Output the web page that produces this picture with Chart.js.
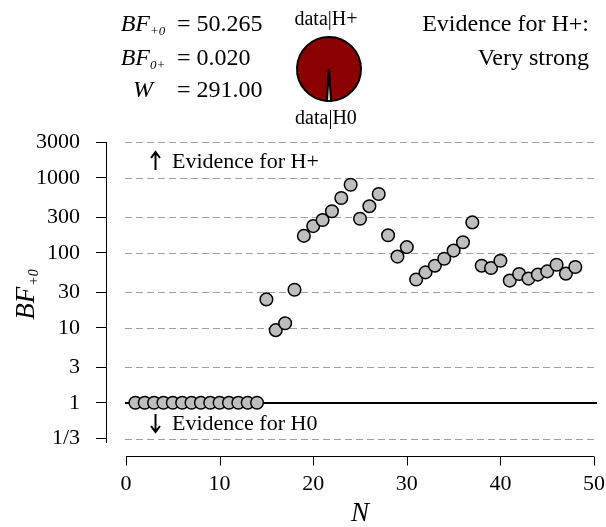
<!DOCTYPE html>
<html>
<head>
<meta charset="utf-8">
<script src="https://cdn.jsdelivr.net/npm/chart.js@4.4.1/dist/chart.umd.min.js"></script>
<style>
  html, body { margin:0; padding:0; background:#fff; }
  #wrap { position:relative; width:606px; height:527px; overflow:hidden; font-family:"Liberation Serif", "Times New Roman", serif; color:#000; }
  #main { position:absolute; left:0; top:0; }
  #pie { position:absolute; left:294px; top:34px; }
  .t { position:absolute; white-space:nowrap; line-height:30px; height:30px; font-size:24px; }
  .lab { width:70px; text-align:center; font-style:italic; }
  .sub { font-size:13px; position:relative; top:4px; font-style:italic; }
  .pl { position:absolute; white-space:nowrap; font-size:20px; line-height:24px; width:100px; text-align:center; }
  .ev { position:absolute; right:17px; white-space:nowrap; font-size:24px; line-height:30px; text-align:right; }
</style>
</head>
<body>
<div id="wrap">
  <canvas id="main" width="606" height="527"></canvas>
  <canvas id="pie" width="70" height="70"></canvas>

  <div class="t lab" style="left:108px; top:8px;">BF<span class="sub">+0</span></div>
  <div class="t" style="left:177px; top:8px;">= 50.265</div>
  <div class="t lab" style="left:108px; top:42px;">BF<span class="sub">0+</span></div>
  <div class="t" style="left:177px; top:42px;">= 0.020</div>
  <div class="t lab" style="left:108px; top:74px;">W</div>
  <div class="t" style="left:177px; top:74px;">= 291.00</div>

  <div class="pl" style="left:276px; top:6px;">data|H+</div>
  <div class="pl" style="left:276px; top:105px;">data|H0</div>

  <div class="ev" style="top:8px;">Evidence for H+:</div>
  <div class="ev" style="top:42px;">Very strong</div>
</div>
<script>
// ---------------- data ----------------
const N = [1,2,3,4,5,6,7,8,9,10,11,12,13,14,15,16,17,18,19,20,21,22,23,24,
           25,26,27,28,29,30,31,32,33,34,35,36,37,38,39,40,41,42,43,44,45,46,47,48];
const bfPlus0 = [1,1,1,1,1,1,1,1,1,1,1,1,1,1,
                 23.9,9.3,11.5,32.1,168,227,273,358,537,808,
                 284,418,607,171,89,119,44,54.8,67.3,83.3,107,138,254,
                 67.3,62.7,78.3,42.6,52.2,45.3,51.2,56.5,69.3,52.7,64.6];
const yTickValues = [1/3, 1, 3, 10, 30, 100, 300, 1000, 3000];
const yTickLabels = ['1/3', '1', '3', '10', '30', '100', '300', '1000', '3000'];
const xTickValues = [0, 10, 20, 30, 40, 50];
const xTickLabels = ['0', '10', '20', '30', '40', '50'];
const pieLabels = ['data|H+', 'data|H0'];
const pieValues = [50.265, 1];

const SERIF = '"Liberation Serif", "Times New Roman", serif';

const refPlugin = {
  id: 'ref',
  beforeDatasetsDraw(chart) {
    const {ctx, chartArea, scales: {x, y}} = chart;
    const x0 = x.getPixelForValue(xTickValues[0]) - 1;
    const x1 = chartArea.right;
    ctx.save();
    ctx.strokeStyle = '#a0a0a0';
    ctx.lineWidth = 1.2;
    ctx.setLineDash([7, 4]);
    yTickValues.forEach(v => {
      if (v === 1) return;
      const py = Math.round(y.getPixelForValue(v)) + 0.5;
      ctx.beginPath(); ctx.moveTo(x0, py); ctx.lineTo(x1, py); ctx.stroke();
    });
    ctx.setLineDash([]);
    ctx.strokeStyle = '#000';
    ctx.lineWidth = 2;
    const p1 = Math.round(y.getPixelForValue(1));
    ctx.beginPath(); ctx.moveTo(x0, p1); ctx.lineTo(x1, p1); ctx.stroke();

    // x axis (R style, detached)
    const ay = chartArea.bottom + 14.5;
    ctx.lineWidth = 1;
    ctx.beginPath();
    ctx.moveTo(x.getPixelForValue(xTickValues[0]), ay);
    ctx.lineTo(x.getPixelForValue(xTickValues[xTickValues.length - 1]), ay);
    xTickValues.forEach(v => {
      const px = Math.round(x.getPixelForValue(v)) + 0.5;
      ctx.moveTo(px, ay); ctx.lineTo(px, ay + 9);
    });
    ctx.stroke();
    ctx.restore();
  },
  afterDraw(chart) {
    const {ctx, chartArea, scales: {x}} = chart;
    ctx.save();
    ctx.fillStyle = '#000';
    ctx.strokeStyle = '#000';
    // evidence arrows
    ctx.lineWidth = 2;
    const ax = 155.5;
    const topY = chartArea.top + 19, botY = chartArea.bottom - 19;
    ctx.beginPath();
    ctx.moveTo(ax, topY + 9); ctx.lineTo(ax, topY - 8);
    ctx.moveTo(ax - 4.5, topY - 3); ctx.lineTo(ax, topY - 9); ctx.lineTo(ax + 4.5, topY - 3);
    ctx.moveTo(ax, botY - 9); ctx.lineTo(ax, botY + 8);
    ctx.moveTo(ax - 4.5, botY + 3); ctx.lineTo(ax, botY + 9); ctx.lineTo(ax + 4.5, botY + 3);
    ctx.stroke();
    ctx.font = '22px ' + SERIF;
    ctx.textBaseline = 'middle';
    ctx.textAlign = 'left';
    ctx.fillText('Evidence for H+', 172, topY + 1);
    ctx.fillText('Evidence for H0', 172, botY + 1);

    // x title
    ctx.font = 'italic 27px ' + SERIF;
    ctx.textAlign = 'center';
    ctx.textBaseline = 'alphabetic';
    ctx.fillText('N', x.getPixelForValue(25), 521);

    // y title BF+0 rotated
    ctx.translate(25, 295);
    ctx.rotate(-Math.PI / 2);
    ctx.font = 'italic 27px ' + SERIF;
    const w1 = ctx.measureText('BF').width;
    ctx.font = 'italic 14px ' + SERIF;
    const w2 = ctx.measureText('+0').width;
    const start = -(w1 + w2) / 2;
    ctx.textAlign = 'left';
    ctx.font = 'italic 27px ' + SERIF;
    ctx.fillText('BF', start, 9);
    ctx.font = 'italic 14px ' + SERIF;
    ctx.fillText('+0', start + w1 + 1, 13);
    ctx.restore();
  }
};

new Chart(document.getElementById('main'), {
  type: 'scatter',
  data: {
    datasets: [{
      data: N.map((n, i) => ({x: n, y: bfPlus0[i]})),
      pointRadius: 6.3,
      pointHoverRadius: 6.3,
      backgroundColor: '#bebebe',
      borderColor: '#000',
      borderWidth: 1.5
    }]
  },
  options: {
    responsive: false,
    animation: false,
    events: [],
    layout: { padding: { top: 142, right: 9, bottom: 0, left: 0 } },
    plugins: { legend: { display: false }, tooltip: { enabled: false } },
    scales: {
      x: {
        type: 'linear',
        min: -2.137,
        max: 50.32,
        afterBuildTicks: s => { s.ticks = xTickValues.map(v => ({value: v})); },
        afterFit: s => { s.height = 85; s.paddingLeft = 0; s.paddingRight = 0; s.paddingTop = 0; s.paddingBottom = 0; },
        grid: { display: false, drawTicks: false },
        border: { display: false },
        ticks: {
          autoSkip: false, maxRotation: 0, padding: 29, color: '#000',
          font: { family: SERIF, size: 22 },
          callback: (v, i) => xTickLabels[i]
        }
      },
      y: {
        type: 'logarithmic',
        min: yTickValues[0],
        max: yTickValues[yTickValues.length - 1],
        afterBuildTicks: s => { s.ticks = yTickValues.map(v => ({value: v})); },
        afterFit: s => { s.width = 106; s.paddingLeft = 0; s.paddingRight = 0; s.paddingTop = 0; s.paddingBottom = 0; },
        grid: { drawOnChartArea: false, drawTicks: true, tickLength: 10, color: '#000', lineWidth: 1 },
        border: { display: true, color: '#000', width: 1 },
        ticks: {
          autoSkip: false, padding: 16, color: '#000',
          font: { family: SERIF, size: 22 },
          callback: (v, i) => yTickLabels[i]
        }
      }
    }
  },
  plugins: [refPlugin]
});

const pieTotal = pieValues.reduce((a, b) => a + b, 0);
new Chart(document.getElementById('pie'), {
  type: 'pie',
  data: {
    labels: pieLabels,
    datasets: [{
      data: pieValues,
      backgroundColor: ['#8b0000', '#ffffff'],
      borderColor: '#000',
      borderWidth: 2,
      hoverOffset: 0,
      offset: 0
    }]
  },
  options: {
    responsive: false,
    animation: false,
    events: [],
    rotation: 180 - 360 * (pieValues[0] + pieValues[1] / 2) / pieTotal,
    layout: { padding: 2 },
    plugins: { legend: { display: false }, tooltip: { enabled: false } }
  }
});
</script>
</body>
</html>
